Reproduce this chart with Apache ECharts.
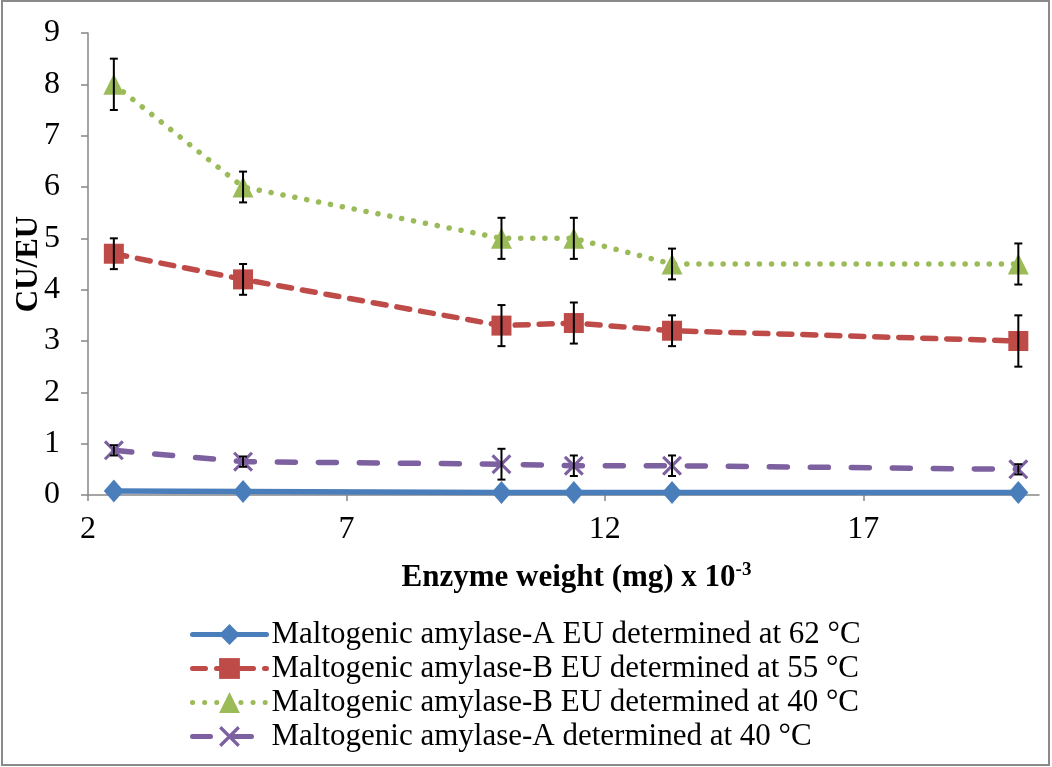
<!DOCTYPE html>
<html>
<head>
<meta charset="utf-8">
<script src="https://cdn.jsdelivr.net/npm/echarts@6/dist/echarts.min.js"></script>
<style>
html,body{margin:0;padding:0;background:#fff;}
#chart{width:1052px;height:767px;}
</style>
</head>
<body>
<div id="chart"></div>
<script>
// ---- data ----
var xValues = [2.5, 5, 10, 11.4, 13.3, 20];
var seriesNames = [
  'Maltogenic amylase-A EU determined at 62 °C',
  'Maltogenic amylase-B EU determined at 55 °C',
  'Maltogenic amylase-B EU determined at 40 °C',
  'Maltogenic amylase-A determined at 40 °C'
];
var blueA62 = [0.08, 0.07, 0.05, 0.05, 0.05, 0.05];
var redB55 = [4.7, 4.2, 3.3, 3.35, 3.2, 3.0];
var greenB40 = [8.0, 6.0, 5.0, 5.0, 4.5, 4.5];
var purpleA40 = [0.87, 0.65, 0.6, 0.57, 0.57, 0.5];
var redErr = [0.3, 0.3, 0.4, 0.4, 0.3, 0.5];
var greenErr = [0.5, 0.3, 0.4, 0.4, 0.3, 0.4];
var purpleErr = [0.1, 0.1, 0.3, 0.2, 0.2, 0.1];
var xTicks = [2, 7, 12, 17];

var FONT = '"Liberation Serif", "Times New Roman", serif';

function pairs(ys) { return xValues.map(function (x, i) { return [x, ys[i]]; }); }
function errData(ys, es) { return xValues.map(function (x, i) { return [x, ys[i], es[i]]; }); }

var xShape = 'path://M0,1.1 L1.1,0 L10,8.9 L8.9,10 Z M8.9,0 L10,1.1 L1.1,10 L0,8.9 Z';

function errorSeries(ys, es) {
  return {
    type: 'custom',
    silent: true,
    z: 10,
    data: errData(ys, es),
    renderItem: function (params, api) {
      var x = api.value(0), y = api.value(1), e = api.value(2);
      var top = api.coord([x, y + e]);
      var bot = api.coord([x, y - e]);
      var hw = 4;
      var st = { stroke: '#000', lineWidth: 2 };
      return {
        type: 'group',
        children: [
          { type: 'line', shape: { x1: top[0], y1: top[1], x2: bot[0], y2: bot[1] }, style: st },
          { type: 'line', shape: { x1: top[0] - hw, y1: top[1], x2: top[0] + hw, y2: top[1] }, style: st },
          { type: 'line', shape: { x1: bot[0] - hw, y1: bot[1], x2: bot[0] + hw, y2: bot[1] }, style: st }
        ]
      };
    }
  };
}

var chart = echarts.init(document.getElementById('chart'), null, { renderer: 'canvas' });
chart.setOption({
  animation: false,
  backgroundColor: '#fff',
  graphic: [{
    type: 'rect',
    shape: { x: 2, y: 1, width: 1047, height: 764 },
    style: { fill: 'none', stroke: '#8a8a8a', lineWidth: 2 },
    z: -1
  }],
  grid: { left: 88, top: 33, right: 13, bottom: 272, containLabel: false, outerBoundsMode: 'none' },
  legend: {
    orient: 'vertical',
    left: 185,
    top: 614,
    itemGap: 3,
    itemWidth: 74,
    itemHeight: 26,
    data: seriesNames,
    lineStyle: { width: 5 },
    textStyle: { fontFamily: FONT, fontSize: 31, color: '#000', lineHeight: 30, padding: [0, 0, 0, 0] }
  },
  xAxis: {
    type: 'value',
    min: 2,
    max: 20.4,
    interval: 5,
    name: '{a|Enzyme weight (mg) x 10}{s|-3}',
    nameLocation: 'middle',
    nameGap: 66,
    nameMoveOverlap: false,
    nameTextStyle: {
      padding: [0, 0, 0, 26],
      rich: {
        a: { fontFamily: FONT, fontSize: 31, fontWeight: 'bold', color: '#000', lineHeight: 34 },
        s: { fontFamily: FONT, fontSize: 19, fontWeight: 'bold', color: '#000', verticalAlign: 'top', lineHeight: 19 }
      }
    },
    splitLine: { show: false },
    axisLine: { show: true, onZero: false, lineStyle: { color: '#868686', width: 1.5 } },
    axisTick: { show: true, inside: false, length: 6, customValues: xTicks, lineStyle: { color: '#868686', width: 1.5 } },
    axisLabel: { customValues: xTicks, margin: 19, fontFamily: FONT, fontSize: 32, color: '#000' }
  },
  yAxis: {
    type: 'value',
    min: 0,
    max: 9,
    interval: 1,
    name: 'CU/EU',
    nameLocation: 'middle',
    nameGap: 44,
    nameMoveOverlap: false,
    nameRotate: 90,
    nameTextStyle: { fontFamily: FONT, fontSize: 31, fontWeight: 'bold', color: '#000' },
    splitLine: { show: false },
    axisLine: { show: true, lineStyle: { color: '#868686', width: 1.5 } },
    axisTick: { show: true, inside: false, length: 7, lineStyle: { color: '#868686', width: 1.5 } },
    axisLabel: { margin: 28, fontFamily: FONT, fontSize: 32, color: '#000' }
  },
  series: [
    {
      name: seriesNames[0], type: 'line', data: pairs(blueA62), z: 5,
      symbol: 'diamond', symbolSize: [20, 23],
      itemStyle: { color: '#4A7EBB' },
      lineStyle: { color: '#4A7EBB', width: 5.5, type: 'solid', cap: 'round' }
    },
    {
      name: seriesNames[1], type: 'line', data: pairs(redB55), z: 4,
      symbol: 'rect', symbolSize: 20,
      itemStyle: { color: '#BE4B48' },
      lineStyle: { color: '#BE4B48', width: 5.5, type: [13, 11], cap: 'round' }
    },
    {
      name: seriesNames[2], type: 'line', data: pairs(greenB40), z: 4,
      symbol: 'triangle', symbolSize: 21,
      itemStyle: { color: '#9BBB59' },
      lineStyle: { color: '#9BBB59', width: 5.5, type: [0.1, 12], cap: 'round' }
    },
    {
      name: seriesNames[3], type: 'line', data: pairs(purpleA40), z: 4,
      symbol: xShape, symbolSize: 20,
      itemStyle: { color: '#7D60A0' },
      lineStyle: { color: '#7D60A0', width: 5.5, type: [18, 23], cap: 'round' }
    },
    errorSeries(redB55, redErr),
    errorSeries(greenB40, greenErr),
    errorSeries(purpleA40, purpleErr)
  ]
});
</script>
</body>
</html>
